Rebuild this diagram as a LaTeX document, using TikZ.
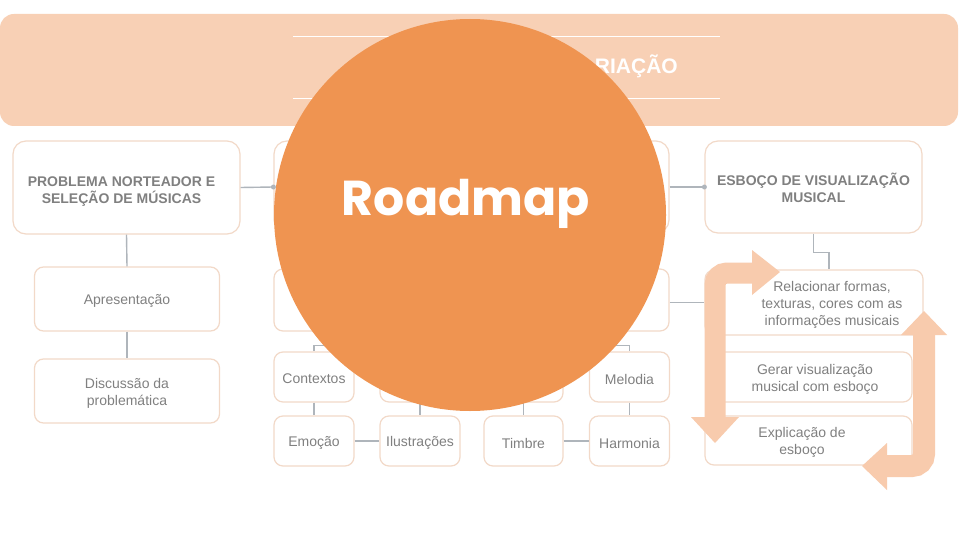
\documentclass[tikz,border=0pt]{standalone}
\usepackage{fontspec}
\setmainfont{Liberation Sans}
\newfontfamily\roadfont{Poppins}
\definecolor{boxc}{HTML}{F2D9C8}
\definecolor{txt}{HTML}{808080}
\definecolor{connc}{HTML}{AFB5BB}
\definecolor{arrowc}{HTML}{F8CBAD}
\definecolor{bannerc}{HTML}{F8D0B5}
\definecolor{circc}{HTML}{EF9451}
\tikzset{
  box/.style={draw=boxc, line width=1.2pt, fill=white, rounded corners=9pt, inner sep=0pt},
  headbox/.style={box, rounded corners=13pt},
  lbl/.style={align=center, text=txt, inner sep=0pt, yshift=-2pt, font=\fontsize{14}{17}\selectfont},
  headlbl/.style={lbl, font=\bfseries\fontsize{14}{16.5}\selectfont},
  tx/.style={label={[lbl]center:{#1}}},
  conn/.style={draw=connc, line width=1.4pt},
  dotend/.style={fill=connc, circle, inner sep=0pt, minimum size=5pt},
  bigarrow/.style={draw=arrowc, rounded corners=12pt},
  arrowhead/.style={fill=arrowc}
}
\begin{document}
\begin{tikzpicture}[x=1pt,y=-1pt]
\useasboundingbox (0,0) rectangle (960,540);
\fill[white] (0,0) rectangle (960,540);

% banner
\fill[bannerc, rounded corners=14pt] (0,14) rectangle (958,126);
\draw[white, line width=1pt] (293,37) -- (720,37);
\draw[white, line width=1pt] (293,99) -- (720,99);
\node[anchor=east, text=white, font=\bfseries\fontsize{21}{24}\selectfont, inner sep=0pt] (bantxt) at (678,66) {RIAÇÃO};

% left column
\node[headbox, minimum width=227pt, minimum height=93pt,
  label={[headlbl, xshift=-5pt, yshift=-2pt, name=probt]center:{PROBLEMA NORTEADOR E\\SELEÇÃO DE MÚSICAS}}] (prob) at (126.5,187.5) {};
\node[box, minimum width=185pt, minimum height=64pt, tx={Apresentação}] (apres) at (127,299) {};
\node[box, minimum width=185pt, minimum height=64pt, tx={Discussão da\\problemática}] (disc) at (127,391) {};

% middle column
\node[headbox, minimum width=395pt, minimum height=92pt] (mid1) at (471.5,187) {};
\node[box, minimum width=395pt, minimum height=62pt] (mid2) at (471.5,300) {};
\node[box, minimum width=80pt, minimum height=50pt, tx={Contextos}] (ctx) at (314,377) {};
\node[box, minimum width=80pt, minimum height=50pt] (r3b) at (420,377) {};
\node[box, minimum width=79pt, minimum height=50pt] (r3c) at (523.5,377) {};
\node[box, minimum width=80pt, minimum height=50pt, tx={Melodia}] (mel) at (629.5,377) {};
\node[box, minimum width=80pt, minimum height=50pt, tx={Emoção}] (emo) at (314,441) {};
\node[box, minimum width=80pt, minimum height=50pt, tx={Ilustrações}] (ilu) at (420,441) {};
\node[box, minimum width=79pt, minimum height=50pt, tx={Timbre}] (tim) at (523.5,441) {};
\node[box, minimum width=80pt, minimum height=50pt, tx={Harmonia}] (harm) at (629.5,441) {};

% right column
\node[headbox, minimum width=217pt, minimum height=92pt,
  label={[headlbl, yshift=1pt, name=esbt]center:{ESBOÇO DE VISUALIZAÇÃO\\MUSICAL}}] (esb) at (813.5,187) {};
\node[box, minimum width=218pt, minimum height=65pt,
  label={[lbl, xshift=18pt, yshift=-0.5pt, name=relt]center:{Relacionar formas,\\texturas, cores com as\\informações musicais}}] (rel) at (814,302.5) {};
\node[box, minimum width=197pt, minimum height=50pt,
  label={[lbl, xshift=1.5pt, name=gert]center:{Gerar visualização\\musical com esboço}}] (ger) at (813.5,377) {};
\node[box, minimum width=207pt, minimum height=49pt,
  label={[lbl, xshift=-6.5pt, yshift=0.5pt, name=explt]center:{Explicação de\\esboço}}] (expl) at (808.5,440.5) {};

% connectors
\draw[conn] (prob.east) -- (mid1.west);
\node[dotend] (d1) at (mid1.west) {};
\draw[conn] (prob.south) -- (apres.north);
\draw[conn] (apres.south) -- (disc.north);
\draw[conn] (mid1.east) -- (esb.west);
\node[dotend] (d2) at (esb.west) {};
\draw[conn] (rel.west -| mid2.east) -- (rel.west);
\draw[conn] (esb.south) -- ++(0,19) -| ([xshift=15pt]rel.north);
\draw[conn] (mid2.south) -- ++(0,14) -| (ctx.north);
\draw[conn] (mid2.south) -- ++(0,14) -| (r3b.north);
\draw[conn] (mid2.south) -- ++(0,14) -| (r3c.north);
\draw[conn] (mid2.south) -- ++(0,14) -| (mel.north);
\draw[conn] (ctx.south) -- (emo.north);
\draw[conn] (r3b.south) -- (ilu.north);
\draw[conn] (r3c.south) -- (tim.north);
\draw[conn] (mel.south) -- (harm.north);
\draw[conn] (emo.east) -- (ilu.west);
\draw[conn] (tim.east) -- (harm.west);

% cycle arrows
\draw[bigarrow, line width=21pt] (715,418) -- (715,273) -- (753,273);
\fill[arrowhead] (752,250) -- (780,272) -- (752,295) -- cycle;
\fill[arrowhead] (691,417) -- (739,417) -- (715,443) -- cycle;
\draw[bigarrow, line width=22pt] (924,334) -- (924,466) -- (886,466);
\fill[arrowhead] (901,335) -- (947,335) -- (924,311) -- cycle;
\fill[arrowhead] (887,443) -- (887,490) -- (862,466) -- cycle;

% roadmap circle
\node[circle, fill=circc, minimum size=392pt, inner sep=0pt] (road) at (470,215) {};
\node[anchor=base, text=white, font=\roadfont\bfseries\fontsize{49}{56}\selectfont, inner sep=0pt] (roadtxt) at (466,215) {Roadmap};
\end{tikzpicture}
\end{document}
